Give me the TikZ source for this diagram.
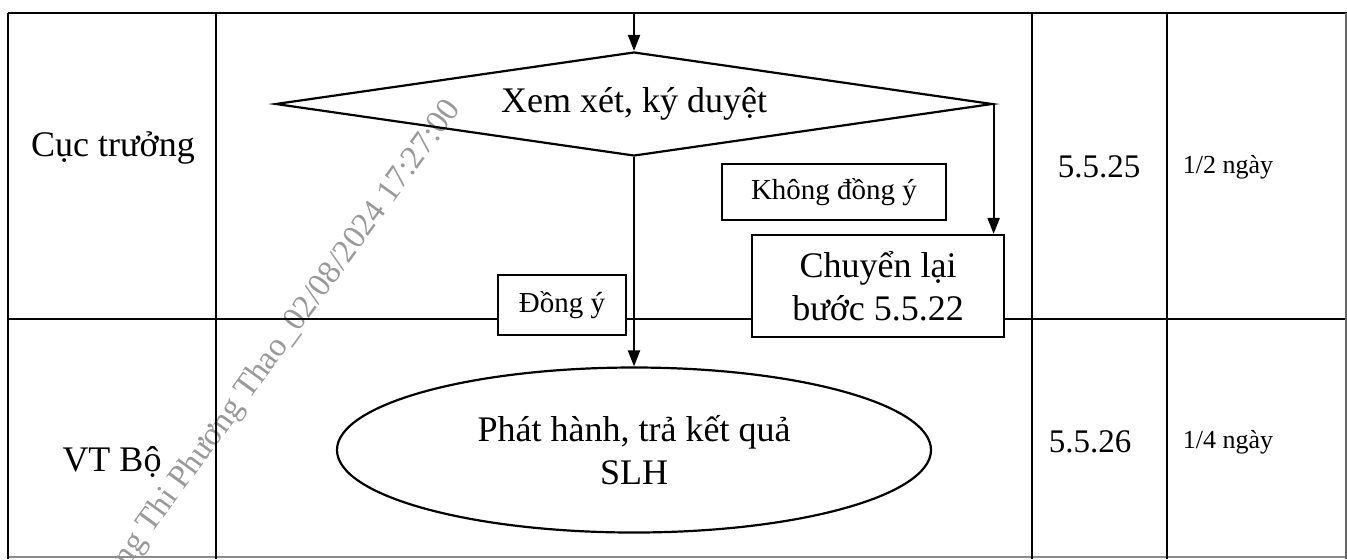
\documentclass[tikz,border=0pt]{standalone}
\usepackage{fontspec}
\setmainfont{Liberation Serif}
\usetikzlibrary{shapes.geometric,arrows.meta}
\begin{document}
\begin{tikzpicture}[x=0.5pt,y=-0.5pt,
  gridline/.style={line width=1.1pt},
  flowline/.style={line width=1.1pt,-{Triangle[width=6pt,length=8pt]}},
  boxnode/.style={draw,line width=1.1pt,fill=white,inner sep=0pt,align=center},
  txtbig/.style={font=\fontsize{18}{21.5}\selectfont,align=center},
  txtsmall/.style={font=\fontsize{14.5}{17}\selectfont},
  txtnum/.style={font=\fontsize{16.5}{19}\selectfont},
  txtday/.style={font=\fontsize{13}{15}\selectfont},
  wmark/.style={rotate=54,text=black!40,font=\fontsize{16.5}{18}\selectfont}]
\useasboundingbox (0,0) rectangle (1347,559);
% watermark
\node[wmark] (wm) at (288,334) {ng Thi Phương Thao\_02/08/2024 17:27:00};
% table
\draw[gridline] (8,13) -- (1347,13);
\draw[gridline] (8,319) -- (1347,319);
\draw[gridline,black!45] (8,557) -- (1347,557);
\draw[gridline] (8,13) -- (8,559);
\draw[gridline] (216,13) -- (216,559);
\draw[gridline] (1032,13) -- (1032,559);
\draw[gridline] (1167,13) -- (1167,559);
\draw[line width=0.8pt,black!60] (1346,13) -- (1346,559);
% row labels
\node[txtbig] (r1) at (113,148) {Cục trưởng};
\node[txtbig] (r2) at (112,462) {VT Bộ};
\node[txtnum] (s1) at (1099,167) {5.5.25};
\node[txtday] (t1) at (1228,167) {1/2 ngày};
\node[txtnum] (s2) at (1090,442) {5.5.26};
\node[txtday] (t2) at (1228,442) {1/4 ngày};
% flow
\node[diamond,draw,line width=1.1pt,inner sep=0pt,shape aspect=6.9,minimum width=358.5pt,minimum height=52pt,txtbig] (dec) at (634,104) {Xem xét, ký duyệt};
\coordinate (topin) at (634,13);
\draw[flowline] (topin) -- (dec.north);
\node[boxnode,txtsmall,minimum width=112pt,minimum height=28pt] (kdy) at (834,192) {Không đồng ý};
\node[boxnode,txtbig,minimum width=126pt,minimum height=51pt] (cl) at (878,286) {Chuyển lại\\bước 5.5.22};
\node[boxnode,txtsmall,minimum width=64pt,minimum height=30pt] (dy) at (562,305) {Đồng ý};
\node[ellipse,draw,line width=1.1pt,inner sep=0pt,minimum width=297pt,minimum height=82.5pt,txtbig] (ph) at (634,450) {Phát hành, trả kết quả\\SLH};
\draw[flowline] (dec.south) -- (ph.north);
\draw[flowline] (dec.east) -- (dec.east |- cl.north);
\end{tikzpicture}
\end{document}
